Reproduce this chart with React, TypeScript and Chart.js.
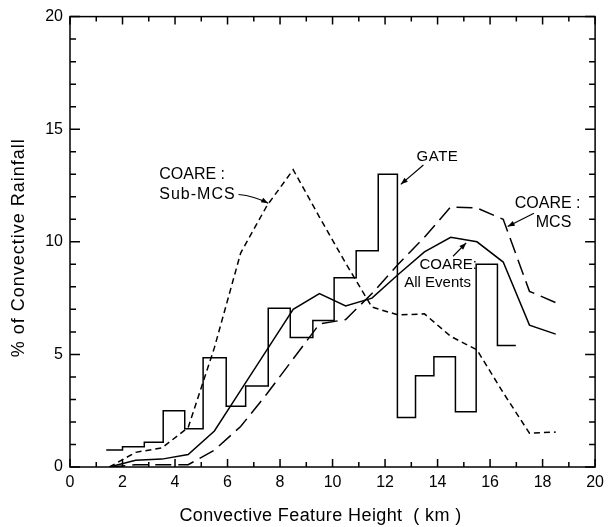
import React, { useEffect, useRef } from "react";
import { Chart, registerables } from "chart.js";

Chart.register(...registerables);

// ---------- data ----------
const heights = [1.5, 2.5, 3.5, 4.5, 5.5, 6.5, 7.5, 8.5, 9.5, 10.5, 11.5, 12.5, 13.5, 14.5, 15.5, 16.5, 17.5, 18.5];
const allEvents = [0, 0.3, 0.35, 0.55, 1.6, 3.4, 5.2, 7.0, 7.7, 7.15, 7.5, 8.55, 9.55, 10.2, 10.0, 9.1, 6.3, 5.9];
const mcs = [0, 0.1, 0.1, 0.1, 0.75, 1.8, 3.25, 4.8, 6.35, 6.55, 7.7, 9.0, 10.2, 11.55, 11.5, 11.0, 7.8, 7.3];
const subMcs = [0, 0.65, 0.85, 1.75, 5.3, 9.5, 11.6, 13.2, 11.1, 9.05, 7.1, 6.75, 6.8, 5.8, 5.2, 3.3, 1.5, 1.55];

const gateEdges = [1.38, 2.0, 2.83, 3.55, 4.37, 5.07, 5.95, 6.69, 7.55, 8.39, 9.25, 10.06, 10.9, 11.74, 12.47, 13.16, 13.86, 14.68, 15.47, 16.28, 16.98];
const gateValues = [0.75, 0.9, 1.1, 2.5, 1.7, 4.85, 2.7, 3.6, 7.05, 5.75, 6.5, 8.4, 9.6, 13.0, 2.2, 4.05, 4.9, 2.45, 9.0, 5.4];

const xTicks = [0, 2, 4, 6, 8, 10, 12, 14, 16, 18, 20];
const yTicks = [0, 5, 10, 15, 20];

const xTitle = "Convective Feature Height  ( km )";
const yTitle = "% of Convective Rainfall";

// annotation texts (anchored in data units)
const labelTexts = [
  { text: "COARE :", x: 3.4, y: 12.97, size: 16, spacing: 0 },
  { text: "Sub-MCS", x: 3.4, y: 12.08, size: 16, spacing: 1 },
  { text: "GATE", x: 13.2, y: 13.77, size: 15, spacing: 0.5 },
  { text: "COARE :", x: 16.94, y: 11.71, size: 16, spacing: 0 },
  { text: "MCS", x: 17.74, y: 10.86, size: 16, spacing: 0 },
  { text: "COARE:", x: 13.31, y: 8.99, size: 15, spacing: 0 },
  { text: "All Events", x: 12.73, y: 8.18, size: 15, spacing: 0 },
];
const arrows = [
  { from: [6.42, 12.1], to: [7.55, 11.71], bend: -3 },
  { from: [13.46, 13.41], to: [12.6, 12.55], bend: 0 },
  { from: [17.67, 11.27], to: [16.67, 10.68], bend: 0 },
  { from: [14.59, 9.36], to: [15.09, 9.95], bend: 0 },
];

const FONT = "'Liberation Sans', Arial, sans-serif";

const gatePoints = gateEdges.map((e, i) => ({ x: e, y: gateValues[Math.min(i, gateValues.length - 1)] }));
const toPts = (ys: number[]) => heights.map((h, i) => ({ x: h, y: ys[i] }));

const framePlugin = {
  id: "frameAndNotes",
  afterDraw(chart: any) {
    const { ctx, chartArea, scales } = chart;
    const { left, right, top, bottom } = chartArea;
    const xs = scales.x;
    const ys = scales.y;
    ctx.save();
    ctx.strokeStyle = "#000";
    ctx.fillStyle = "#000";
    ctx.lineWidth = 1.5;
    ctx.strokeRect(left, top, right - left, bottom - top);
    ctx.beginPath();
    for (let v = 0; v <= 20; v++) {
      const px = xs.getPixelForValue(v);
      const len = v % 2 === 0 ? 8 : 5;
      ctx.moveTo(px, bottom);
      ctx.lineTo(px, bottom - len);
      ctx.moveTo(px, top);
      ctx.lineTo(px, top + len);
    }
    for (let v = 0; v <= 20; v++) {
      const py = ys.getPixelForValue(v);
      const len = v % 5 === 0 ? 10 : 6;
      ctx.moveTo(left, py);
      ctx.lineTo(left + len, py);
      ctx.moveTo(right, py);
      ctx.lineTo(right - len, py);
    }
    ctx.stroke();

    // axis titles
    ctx.textBaseline = "middle";
    ctx.textAlign = "center";
    ctx.font = `18px ${FONT}`;
    (ctx as any).letterSpacing = "0.4px";
    ctx.fillText(xTitle, (left + right) / 2 - 12, bottom + 49);
    ctx.save();
    ctx.translate(19, (top + bottom) / 2 + 6);
    ctx.rotate(-Math.PI / 2);
    (ctx as any).letterSpacing = "1px";
    ctx.fillText(yTitle, 0, 0);
    ctx.restore();

    // annotation labels
    ctx.textAlign = "left";
    for (const l of labelTexts) {
      ctx.font = `${l.size}px ${FONT}`;
      (ctx as any).letterSpacing = `${l.spacing}px`;
      ctx.fillText(l.text, xs.getPixelForValue(l.x), ys.getPixelForValue(l.y));
    }
    (ctx as any).letterSpacing = "0px";

    // arrows
    ctx.lineWidth = 1.2;
    for (const a of arrows) {
      const x0 = xs.getPixelForValue(a.from[0]);
      const y0 = ys.getPixelForValue(a.from[1]);
      const x1 = xs.getPixelForValue(a.to[0]);
      const y1 = ys.getPixelForValue(a.to[1]);
      const dx = x1 - x0, dy = y1 - y0;
      const d = Math.hypot(dx, dy);
      const nx = -dy / d, ny = dx / d;
      const cx = (x0 + x1) / 2 + nx * a.bend;
      const cy = (y0 + y1) / 2 + ny * a.bend;
      ctx.beginPath();
      ctx.moveTo(x0, y0);
      ctx.quadraticCurveTo(cx, cy, x1, y1);
      ctx.stroke();
      const ax = x1 - cx, ay = y1 - cy;
      const ad = Math.hypot(ax, ay);
      const ux = ax / ad, uy = ay / ad;
      const L = 7, W = 2.6;
      ctx.beginPath();
      ctx.moveTo(x1, y1);
      ctx.lineTo(x1 - ux * L - uy * W, y1 - uy * L + ux * W);
      ctx.lineTo(x1 - ux * L + uy * W, y1 - uy * L - ux * W);
      ctx.closePath();
      ctx.fill();
    }
    ctx.restore();
  },
};

export default function App() {
  const ref = useRef<HTMLCanvasElement | null>(null);
  useEffect(() => {
    if (!ref.current) return;
    const common = { pointRadius: 0, borderColor: "#000", borderWidth: 1.5, fill: false, tension: 0 };
    const chart = new Chart(ref.current, {
      type: "line",
      data: {
        datasets: [
          { ...common, label: "GATE", data: gatePoints, stepped: "before" } as any,
          { ...common, label: "COARE: All Events", data: toPts(allEvents) },
          { ...common, label: "COARE: MCS", data: toPts(mcs), borderDash: [16, 7] },
          { ...common, label: "COARE: Sub-MCS", data: toPts(subMcs), borderDash: [6, 4] },
        ],
      },
      options: {
        responsive: false,
        animation: false,
        layout: { padding: { top: 14, right: 10, left: 0, bottom: 0 } },
        plugins: { legend: { display: false }, tooltip: { enabled: false } },
        scales: {
          x: {
            type: "linear",
            min: 0,
            max: 20,
            afterBuildTicks: (s: any) => { s.ticks = xTicks.map((v) => ({ value: v })); },
            afterFit: (s: any) => { s.height = 60; },
            grid: { display: false, drawTicks: false },
            border: { display: false },
            ticks: { color: "#000", padding: 6, maxRotation: 0, autoSkip: false, font: { family: FONT, size: 16 } },
          },
          y: {
            type: "linear",
            min: 0,
            max: 20,
            afterBuildTicks: (s: any) => { s.ticks = yTicks.map((v) => ({ value: v })); },
            afterFit: (s: any) => { s.width = 70; },
            grid: { display: false, drawTicks: false },
            border: { display: false },
            ticks: { color: "#000", padding: 7, autoSkip: false, font: { family: FONT, size: 16 } },
          },
        },
      },
      plugins: [framePlugin],
    });
    return () => chart.destroy();
  }, []);
  return (
    <div style={{ position: "fixed", left: 0, top: 0, width: 610, height: 527, background: "#fff" }}>
      <canvas ref={ref} width={610} height={527} />
    </div>
  );
}
